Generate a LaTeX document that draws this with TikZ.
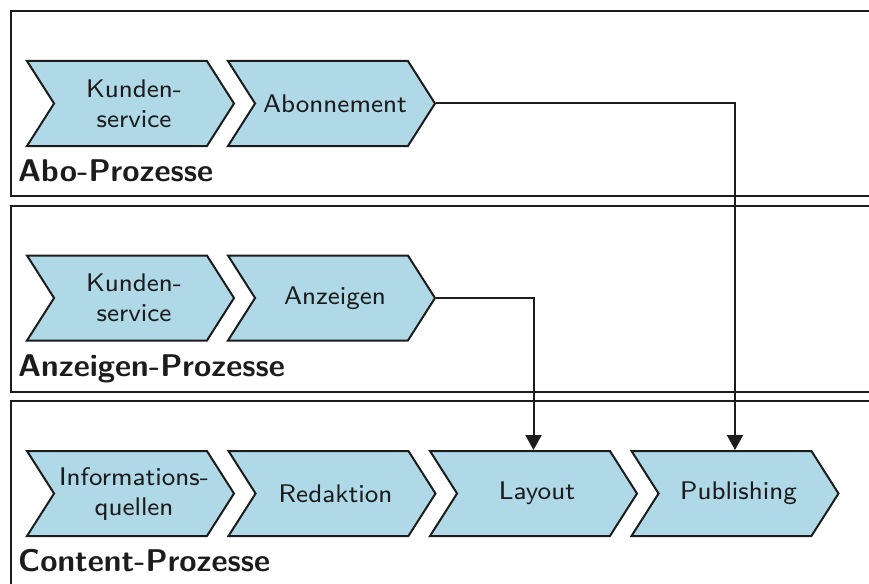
\documentclass[tikz,border=0pt]{standalone}
\usepackage{fontspec}
\newfontfamily\stepfont{lmsans8-regular.otf}
\usetikzlibrary{shapes.symbols,arrows.meta}
\definecolor{stepfill}{RGB}{176,217,232}
\definecolor{ink}{RGB}{28,28,28}
\tikzset{
  stepbox/.style={shape=signal, signal from=west, signal to=east,
    signal pointer angle=115, minimum width=207pt, minimum height=85pt,
    inner sep=0pt, draw=ink, line width=2pt, fill=stepfill},
  steptext/.style={align=center, text=ink, inner sep=0pt,
    font=\stepfont\fontsize{25.5}{30}\selectfont},
  lane/.style={draw=ink, line width=2pt},
  lanelabel/.style={anchor=base west, inner sep=0pt,
    font=\sffamily\bfseries\fontsize{31.4}{36}\selectfont, text=ink},
  flow/.style={draw=ink, line width=2pt, -{Triangle[width=16pt,length=15pt]}},
}
% a process step: signal shape with its caption set a little right of centre
\newcommand\procstep[3]{%
  \node[stepbox] (#1) at #2 {};
  \node[steptext] (#1-t) at ([xshift=3.5pt]#1.center) {#3};
}
\begin{document}
\begin{tikzpicture}[x=1pt,y=-1pt]
\useasboundingbox (0,0) rectangle (869,583);
\clip (0,0) rectangle (869,583);

% swimlane frames, open to the right
\draw[lane] (880,11) -- (11,11) -- (11,196) -- (880,196);
\draw[lane] (880,205.5) -- (11,205.5) -- (11,391.5) -- (880,391.5);
\draw[lane] (880,401) -- (11,401) -- (11,600);

% Abo lane
\procstep{ks1}{(130.5,103.5)}{Kunden-\\service}
\procstep{abo}{(331.5,103.5)}{Abonnement}
\node[lanelabel] (l1) at (18,181) {Abo-Prozesse};

% Anzeigen lane
\procstep{ks2}{(130.5,298)}{Kunden-\\service}
\procstep{anz}{(331.5,298)}{Anzeigen}
\node[lanelabel] (l2) at (18,376) {Anzeigen-Prozesse};

% Content lane
\procstep{inf}{(130.5,493.5)}{Informations-\\quellen}
\procstep{red}{(332,493.5)}{Redaktion}
\procstep{lay}{(533.5,493.5)}{Layout}
\procstep{pub}{(735,493.5)}{Publishing}
\node[lanelabel] (l3) at (18,571.5) {Content-Prozesse};

% hand-offs into the content lane
\draw[flow] (abo.east) -| (pub.north);
\draw[flow] (anz.east) -| (lay.north);
\end{tikzpicture}
\end{document}
